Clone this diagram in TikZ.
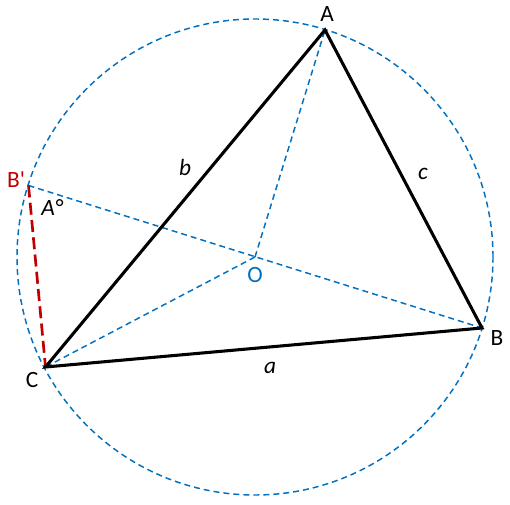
\documentclass[tikz,border=0pt]{standalone}
\usepackage{fontspec}
\setmainfont{Carlito}
\newfontfamily\carl{Carlito}
\definecolor{cblue}{RGB}{0,112,192}
\definecolor{cred}{RGB}{192,0,0}
\begin{document}
\begin{tikzpicture}[x=0.75pt,y=-0.75pt,
  bl/.style={cblue,line width=1.1pt,dash pattern=on 4.5pt off 3pt},
  side/.style={black,line width=2.3pt,line join=miter},
  lbl/.style={font=\carl\fontsize{17.5}{20}\selectfont,inner sep=0pt}]
\useasboundingbox (0,0) rectangle (510,505);
\coordinate (O) at (255,257);
\coordinate (A) at (325,30);
\coordinate (B) at (482,328);
\coordinate (C) at (45.5,367);
\coordinate (Bp) at (28.5,185.5);
\node[bl,draw,circle,minimum size=476*0.75pt,inner sep=0pt] (circ) at (O) {};
\draw[bl] (O) -- (A);
\draw[bl] (O) -- (C);
\draw[bl] (Bp) -- (B);
\draw[cred,line width=2pt,dash pattern=on 9pt off 4pt] (Bp) -- (C);
\draw[side] (A) -- (B) -- (C) -- cycle;
\node[lbl] (lA) at (327,14) {A};
\node[lbl] (lB) at (497,338) {B};
\node[lbl] (lC) at (32,380) {C};
\node[lbl,text=cred] (lBp) at (16,180) {B'};
\node[lbl,text=cblue] (lO) at (255,275) {O};
\node[lbl] (lb) at (185,167) {\itshape b};
\node[lbl] (lc) at (423,174) {\itshape c};
\node[lbl] (la) at (270,368) {\itshape a};
\node[lbl] (lAd) at (52,208) {\itshape A°};
\end{tikzpicture}
\end{document}
